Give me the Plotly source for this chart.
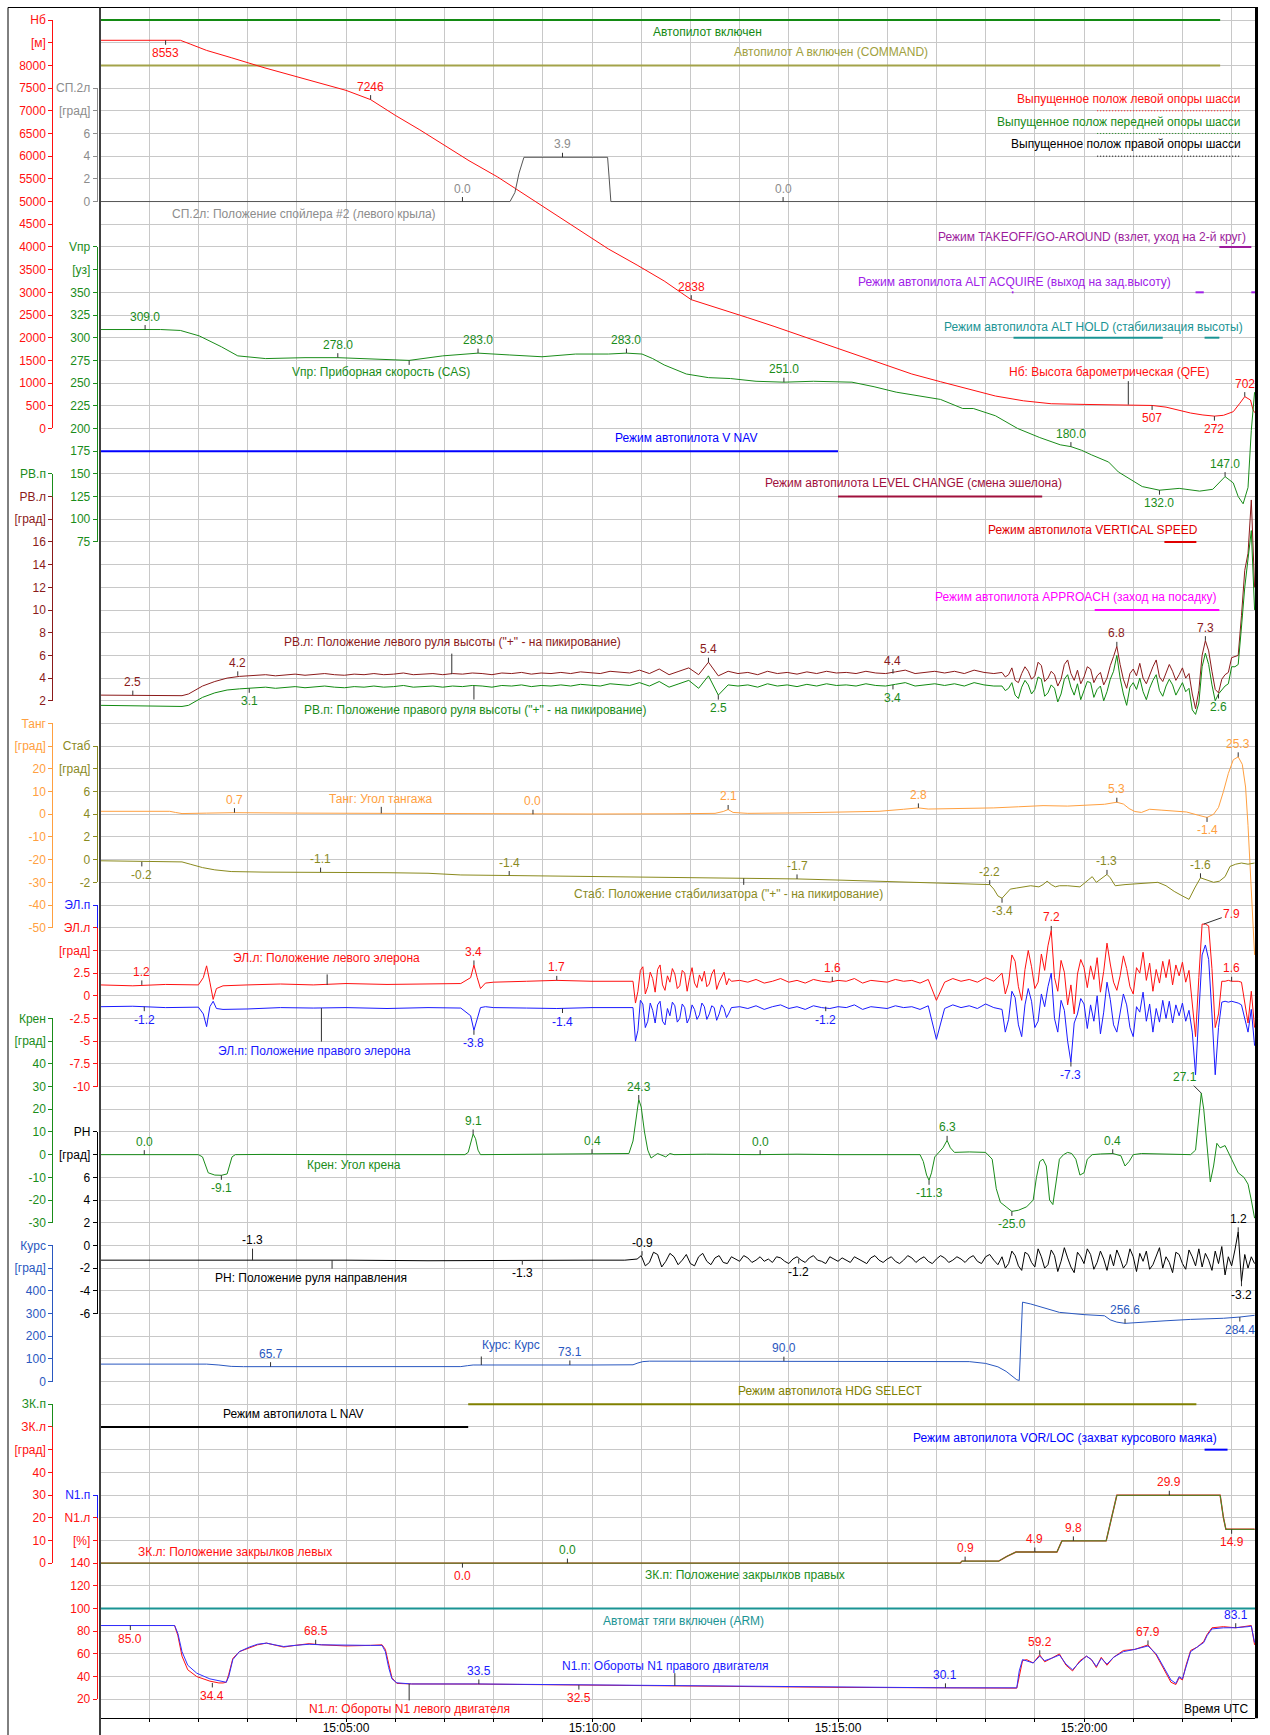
import plotly.graph_objects as go
import pandas as pd

# ============================ DATA ============================
# time: seconds after 15:00:00 UTC ; values in channel units
TIME_TICK_SEC = [300, 600, 900, 1200]
TIME_TICKS = ["15:05:00", "15:10:00", "15:15:00", "15:20:00"]

HB_TICKS = ["Нб", "[м]", "8000", "7500", "7000", "6500", "6000", "5500", "5000", "4500",
            "4000", "3500", "3000", "2500", "2000", "1500", "1000", "500", "0"]
SP_TICKS = ["СП.2л", "[град]", "6", "4", "2", "0"]
VPR_TICKS = ["Vпр", "[уз]", "350", "325", "300", "275", "250", "225", "200", "175", "150", "125", "100", "75"]
RVP_TICKS = ["РВ.п"]
RVL_TICKS = ["РВ.л", "[град]", "16", "14", "12", "10", "8", "6", "4", "2"]
TANG_TICKS = ["Танг", "[град]", "20", "10", "0", "-10", "-20", "-30", "-40", "-50"]
STAB_TICKS = ["Стаб", "[град]", "6", "4", "2", "0", "-2"]
ELP_TICKS = ["ЭЛ.п"]
ELL_TICKS = ["ЭЛ.л", "[град]", "2.5", "0", "-2.5", "-5", "-7.5", "-10"]
KREN_TICKS = ["Крен", "[град]", "40", "30", "20", "10", "0", "-10", "-20", "-30"]
RN_TICKS = ["РН", "[град]", "6", "4", "2", "0", "-2", "-4", "-6"]
KURS_TICKS = ["Курс", "[град]", "400", "300", "200", "100", "0"]
ZKP_TICKS = ["ЗК.п"]
ZKL_TICKS = ["ЗК.л", "[град]", "40", "30", "20", "10", "0"]
N1P_TICKS = ["N1.п"]
N1L_TICKS = ["N1.л", "[%]", "140", "120", "100", "80", "60", "40", "20"]

# discrete signals: (start s, end s)
ap_on = [(0, 1366)]
ap_cmd_a = [(0, 1366)]
gear_left = [(1216, 1390)]
gear_nose = [(1216, 1390)]
gear_right = [(1216, 1390)]
toga = [(1365, 1404)]
alt_acq = [(1112, 1114), (1336, 1346), (1404, 1408.5)]
alt_hold = [(1114, 1296), (1347, 1365)]
vnav = [(0, 900)]
lvl_chg = [(900, 1149)]
vs_mode = [(1298, 1337)]
app_mode = [(1213, 1365)]
hdg_sel = [(449, 1337)]
lnav = [(0, 449)]
vor_loc = [(1347, 1375)]
at_arm = [(0, 1408.5)]

hb = [(0, 8553), (98, 8553), (110, 8470), (130, 8330), (160, 8170), (200, 7950), (250, 7700),
      (300, 7450), (330, 7246), (338, 7150), (360, 6900), (390, 6580), (418, 6270), (450, 5900),
      (485, 5540), (526, 5055), (553, 4735), (586, 4340), (620, 3955), (655, 3600), (688, 3250),
      (721, 2838), (755, 2650), (790, 2440), (822, 2250), (856, 2040), (890, 1835), (924, 1620),
      (958, 1400), (990, 1200), (1025, 1030), (1060, 860), (1092, 715), (1126, 610), (1160, 545),
      (1200, 530), (1260, 525), (1283, 507), (1300, 470), (1313, 407), (1330, 340), (1345, 297),
      (1359, 272), (1370, 290), (1382, 370), (1390, 555), (1396, 702), (1403, 627), (1406, 420),
      (1408, 350)]
hb_marks = [(80, 8553), (330, 7246), (721, 2838), (1283, 507), (1359, 272), (1396, 702)]

sp2 = [(0, 0), (500, 0), (506, 0.8), (511, 2.5), (517, 3.9), (619, 3.9), (621, 2), (623, 0), (1408.5, 0)]
sp2_marks = [(442, 0.0), (564, 3.9), (833, 0.0)]

vpr = [(0, 309), (74, 309), (98, 308), (121, 302), (148, 290), (168, 280), (202, 277), (250, 278),
       (290, 278), (340, 276), (377, 275), (418, 280), (461, 283), (499, 281), (539, 279), (580, 282),
       (620, 282), (642, 283), (661, 282), (674, 277), (688, 270), (715, 260), (742, 256), (769, 255),
       (800, 252), (834, 251), (870, 252), (917, 251), (944, 246), (971, 240), (998, 236), (1025, 232),
       (1052, 222), (1065, 222), (1092, 214), (1119, 200), (1146, 190), (1171, 182), (1184, 180),
       (1197, 176), (1209, 171), (1230, 163), (1242, 152), (1254, 145), (1271, 136), (1292, 132),
       (1316, 134), (1341, 131), (1357, 133), (1372, 147), (1382, 140), (1388, 125), (1394, 117),
       (1400, 135), (1404, 198), (1408, 240)]
vpr_marks = [(55, 309.0), (290, 278.0), (461, 283.0), (642, 283.0), (834, 251.0), (1184, 180.0),
             (1292, 132.0), (1372, 147.0)]

# elevators
rvl_a = [(0, 2.5), (50, 2.5), (100, 2.45), (108, 2.6), (115, 2.9), (125, 3.3), (140, 3.7), (155, 4.0),
         (170, 4.15), (185, 4.2)]
rvl_b = [4.25, 4.3, 4.2, 4.3, 4.35, 4.25, 4.3, 4.4, 4.3, 4.25,
         4.35, 4.3, 4.4, 4.3, 4.35, 4.45, 4.3, 4.35, 4.4, 4.3,
         4.4, 4.35, 4.45, 4.4, 4.3, 4.45, 4.4, 4.5, 4.35, 4.45,
         4.4, 4.5, 4.4, 4.55, 4.45, 4.4, 4.6, 4.5, 4.45, 4.7,
         4.4, 4.8, 4.3, 4.6, 4.9, 4.3, 5.4, 4.2, 4.6, 4.4,
         4.5, 4.3, 4.6, 4.4, 4.5, 4.35, 4.55, 4.4, 4.6, 4.45,
         4.5, 4.4, 4.6, 4.45, 4.4, 4.55, 4.7, 4.4, 4.5, 4.6,
         4.45, 4.6, 4.4, 4.7, 4.5, 4.4]              # every 12 s from 190 s
rvl_c = [4.5, 4.1, 4.3, 4.9, 3.8, 3.6, 4.4, 5.0, 4.6, 3.9,
         4.2, 5.4, 5.1, 3.7, 4.0, 4.6, 4.3, 3.3, 3.9, 5.2,
         5.6, 4.4, 3.8, 4.7, 3.5, 4.1, 5.0, 4.8, 3.6, 4.2,
         4.5, 3.4, 4.0, 5.1, 5.9, 6.8, 5.2, 3.9, 3.1, 4.4,
         4.8, 4.2, 5.3, 4.0, 3.5, 4.3, 5.0, 5.6, 4.1, 3.7,
         4.5, 5.2, 4.6, 3.8, 4.3, 4.9, 4.0, 4.4, 2.6, 1.3,
         2.9, 6.0, 7.3, 6.4, 4.6, 3.0, 2.7, 3.9, 4.3, 4.5,
         5.8, 5.9, 6.0, 9.5, 13.5, 15.0, 19.7, 12.0]    # every 4 s from 1100 s
rvp_a = [(0, 1.6), (50, 1.55), (100, 1.5), (108, 1.6), (115, 1.9), (125, 2.3), (140, 2.7), (155, 2.95),
         (170, 3.05), (185, 3.1)]
rvp_b = [3.15, 3.2, 3.1, 3.2, 3.25, 3.15, 3.2, 3.3, 3.2, 3.15,
         3.25, 3.2, 3.3, 3.2, 3.25, 3.35, 3.2, 3.25, 3.3, 3.2,
         3.3, 3.25, 3.35, 3.3, 3.2, 3.35, 3.3, 3.4, 3.25, 3.35,
         3.3, 3.4, 3.3, 3.45, 3.35, 3.3, 3.5, 3.4, 3.35, 3.6,
         3.3, 3.7, 3.2, 3.5, 3.8, 3.1, 4.2, 2.5, 3.4, 3.3,
         3.4, 3.2, 3.5, 3.3, 3.4, 3.25, 3.45, 3.3, 3.5, 3.35,
         3.4, 3.3, 3.5, 3.35, 3.3, 3.45, 3.6, 3.3, 3.4, 3.5,
         3.35, 3.5, 3.3, 3.6, 3.4, 3.3]
rvp_c = [3.3, 2.9, 3.1, 3.6, 2.5, 2.2, 3.2, 3.8, 3.4, 2.6,
         3.0, 4.1, 3.9, 2.4, 2.7, 3.4, 3.1, 1.9, 2.6, 3.9,
         4.3, 3.2, 2.5, 3.5, 2.1, 2.9, 3.7, 3.6, 2.3, 3.0,
         3.3, 2.0, 2.8, 3.9, 4.6, 6.0, 4.0, 2.6, 1.6, 3.2,
         3.6, 3.0, 4.0, 2.8, 2.1, 3.1, 3.8, 4.3, 2.9, 2.4,
         3.3, 3.9, 3.4, 2.5, 3.1, 3.6, 2.8, 3.1, 1.2, 0.8,
         1.8, 5.0, 6.2, 5.2, 3.4, 2.0, 2.6, 3.0, 3.3, 3.5,
         5.0, 5.0, 5.2, 8.5, 12.0, 14.5, 17.0, 10.0]
rvl_marks = [(40, 2.5), (168, 4.2), (742, 5.4), (967, 4.4), (1240, 6.8), (1348, 7.3)]
rvp_marks = [(182, 3.1), (754, 2.5), (967, 3.4), (1364, 2.6)]

tang = [(0, 1.3), (85, 1.3), (92, 0.8), (100, 0.3), (130, 0.5), (164, 0.7), (250, 0.5), (330, 0.4),
        (420, 0.2), (528, 0.0), (600, 0.1), (700, 0.2), (750, 0.4), (760, 1.2), (766, 2.1), (772, 0.8),
        (790, 0.4), (850, 0.6), (900, 0.9), (950, 1.3), (980, 2.2), (998, 2.8), (1010, 2.3), (1050, 2.4),
        (1090, 2.8), (1120, 3.3), (1150, 3.8), (1180, 3.6), (1200, 4.0), (1225, 4.4), (1240, 5.3),
        (1248, 4.5), (1255, 2.5), (1262, 1.2), (1270, 0.8), (1280, 2.2), (1295, 1.8), (1310, 1.5),
        (1325, 1.0), (1340, -0.5), (1350, -1.4), (1358, 0.0), (1364, 3.0), (1370, 10), (1376, 18),
        (1382, 24), (1388, 25.3), (1393, 22), (1397, 12), (1400, -5), (1403, -25), (1406, -45),
        (1408, -62)]
tang_marks = [(164, 0.7), (528, 0.0), (766, 2.1), (998, 2.8), (1240, 5.3), (1350, -1.4), (1388, 25.3)]

stab = [(0, -0.1), (60, -0.15), (100, -0.2), (110, -0.4), (125, -0.7), (140, -0.9), (160, -1.05),
        (200, -1.1), (269, -1.1), (350, -1.15), (400, -1.2), (420, -1.3), (440, -1.35), (499, -1.4),
        (560, -1.45), (620, -1.5), (680, -1.55), (700, -1.6), (760, -1.65), (850, -1.7), (900, -1.8),
        (950, -1.9), (990, -2.0), (1030, -2.1), (1070, -2.2), (1085, -2.2), (1090, -2.6), (1095, -3.2),
        (1100, -3.4), (1105, -3.0), (1110, -2.6), (1118, -2.5), (1125, -2.4), (1135, -2.3), (1145, -2.4),
        (1150, -2.2), (1155, -1.9), (1160, -2.2), (1165, -2.4), (1170, -2.3), (1180, -2.3), (1195, -2.4),
        (1205, -1.8), (1210, -1.5), (1215, -2.0), (1222, -1.6), (1228, -1.3), (1232, -1.6), (1238, -2.3),
        (1250, -2.2), (1270, -2.1), (1290, -2.0), (1300, -2.3), (1310, -2.8), (1320, -3.2), (1328, -3.5),
        (1335, -2.5), (1342, -1.6), (1350, -1.8), (1358, -2.0), (1365, -1.9), (1372, -1.5), (1378, -0.6),
        (1385, -0.4), (1392, -0.3), (1400, -0.4), (1408, -0.3)]
stab_marks = [(51, -0.2), (269, -1.1), (499, -1.4), (850, -1.7), (1085, -2.2), (1100, -3.4),
              (1228, -1.3), (1342, -1.6)]

# ailerons
ell_a = [(0, 1.2), (40, 1.1), (80, 1.25), (120, 1.2), (126, 2.0), (130, 3.3), (134, 1.5), (138, -0.4),
         (142, 0.8), (150, 1.1), (180, 1.2), (220, 1.3), (260, 1.2), (300, 1.35), (350, 1.25), (400, 1.3),
         (440, 1.35), (452, 2.0), (456, 3.4), (460, 2.0), (464, 0.8), (470, 1.4), (480, 1.5), (520, 1.6),
         (557, 1.7), (600, 1.6), (640, 1.65), (648, 1.6)]
ell_b1 = [1.6, -0.8, 0.5, 2.8, 3.2, 0.2, 1.0, 2.6, 1.9, 0.4,
          2.9, 3.4, 1.2, 0.6, 2.2, 1.5, 3.0, 2.4, 0.8, 1.1,
          2.8, 2.5, 0.5, 2.0, 3.1, 1.4, 0.9, 2.3, 1.6, 2.7,
          1.0, 1.3, 2.4, 2.9, 0.7, 1.5, 2.1, 2.6, 1.2, 1.9,
          1.6]                                        # every 3 s from 650 s
ell_b2 = [1.7, 1.5, 1.8, 1.4, 1.6, 1.9, 1.5, 1.7, 1.4, 1.8, 1.6, 1.5, 1.7, 1.6, 1.9, 1.4, 1.7, 1.6,
          1.5, 1.8, 1.6, 1.7, 1.4, 1.8, -0.5, 1.5, 1.9, 1.6, 1.8, 1.5, 2.0, 1.6]   # every 10 s from 780 s
ell_b3 = [2.5, 0.2, 1.4, 4.5, 3.8, 1.0, -0.5, 2.9, 5.0, 3.2,
          0.8, 1.5, 4.6, 2.8, 5.5, 7.2, 2.0, 0.5, 3.9, 2.6,
          -1.0, 1.2, -2.0, 2.4, 4.0, 3.1, 0.9, 3.3, 1.8, 4.2,
          0.4, 2.7, 5.8, 3.5, 1.5, 0.6, 2.2, 4.4, 3.0, 1.0,
          0.2, 3.1, 2.5, 4.8, 1.7, 3.6, 0.5, 2.9, 1.4, 3.8,
          2.0, 4.0, 1.2, 3.4, 2.2, 3.7, 1.5, 2.8,
          -0.8, -4.5, 2.0, 7.9, 7.9, 7.7, 3.0, -3.5, -2.0, 1.6,
          1.6, 1.7, 1.6, 1.6, 1.6, 1.5, -1.0, -3.0, 0.5, -3.5]   # every 4 s from 1100 s
elp_a = [(0, -1.2), (40, -1.15), (80, -1.3), (120, -1.25), (126, -2.0), (130, -3.4), (134, -1.2),
         (138, -0.6), (142, -1.4), (150, -1.5), (180, -1.45), (220, -1.3), (260, -1.35), (300, -1.3),
         (350, -1.4), (400, -1.3), (440, -1.35), (452, -2.2), (456, -3.8), (460, -2.6), (464, -1.3),
         (470, -1.2), (480, -1.3), (520, -1.35), (557, -1.4), (600, -1.3), (640, -1.3), (648, -1.35)]
elp_b1 = [-1.3, -5.0, -3.8, -0.5, -0.9, -3.5, -2.8, -0.8, -1.6, -3.0,
          -1.0, -0.6, -2.8, -3.2, -1.4, -2.2, -0.7, -1.1, -2.9, -2.5,
          -0.9, -1.3, -3.0, -2.4, -1.0, -1.5, -2.6, -2.1, -0.8, -1.2,
          -2.6, -2.0, -1.1, -1.3, -2.7, -2.0, -1.0, -1.4, -2.4, -1.9,
          -1.3]
elp_b2 = [-1.2, -1.4, -1.1, -1.5, -1.2, -1.0, -1.4, -1.2, -1.5, -1.1, -1.3, -1.4, -1.2, -1.3, -1.0,
          -1.5, -1.2, -1.3, -1.4, -1.1, -1.3, -1.2, -1.5, -1.1, -4.8, -1.4, -1.0, -1.3, -1.1, -1.4,
          -0.9, -1.3]
elp_b3 = [-1.5, -4.0, -2.6, 0.5, -0.2, -3.2, -4.5, -1.0, 0.8, -0.6,
          -3.5, -2.8, 0.2, -1.2, 1.0, 2.5, -2.5, -4.0, -0.5, -1.6,
          -5.0, -7.3, -3.0, -2.0, -0.3, -0.9, -3.6, -1.0, -2.8, 0.0,
          -4.2, -1.8, 1.5, -0.4, -3.2, -4.0, -2.0, 0.2, -1.0, -3.5,
          -4.5, -1.2, -1.8, 0.4, -2.8, -0.9, -4.0, -1.4, -2.9, -0.5,
          -2.5, -0.6, -3.0, -1.0, -2.2, -0.8, -2.8, -1.6,
          -4.0, -8.7, -2.0, 4.5, 5.6, 4.0, -2.0, -8.7, -3.5, -0.7,
          -0.6, -0.7, -0.6, -0.7, -0.8, -1.0, -2.5, -4.0, -1.5, -5.5]
ell_marks = [(51, 1.2), (456, 3.4), (557, 1.7), (893, 1.6), (1160, 7.2), (1380, 1.6)]
ell_mark_peak = [(1346, 7.9)]
elp_marks = [(54, -1.2), (456, -3.8), (564, -1.4), (885, -1.2), (1184, -7.3)]

kren = [(0, 0), (120, 0), (125, -1), (128, -4), (132, -8), (140, -9), (148, -9.1), (155, -8.5),
        (158, -5), (161, -1), (165, 0), (200, 0.1), (300, 0), (400, 0), (445, 0), (449, 1), (452, 5),
        (455, 9.1), (458, 7), (461, 2), (464, 0), (500, 0.1), (560, 0.3), (600, 0.4), (640, 0.3),
        (645, 0.5), (650, 6), (654, 18), (657, 24.3), (660, 21), (664, 10), (668, 2), (672, -1.5),
        (676, -0.5), (680, 0.5), (690, -1), (695, 0.5), (700, 0), (740, 0.2), (800, 0), (850, 0.2),
        (900, 0), (950, 0.1), (1000, 0), (1004, -3), (1008, -9), (1011, -11.3), (1014, -8), (1018, -1),
        (1022, 0.5), (1028, 3), (1033, 6.3), (1037, 3), (1042, 1), (1060, 1.2), (1080, 1), (1088, -2),
        (1093, -15), (1098, -21), (1105, -23), (1112, -25), (1120, -24.5), (1130, -23), (1138, -20),
        (1142, -10), (1146, -3), (1150, -2), (1154, -5), (1158, -20), (1162, -22), (1166, -12),
        (1170, -2), (1175, 0), (1180, 1), (1185, 0.5), (1190, -2), (1195, -9), (1200, -8), (1204, -2),
        (1210, 0), (1220, 0.3), (1235, 0.5), (1245, -0.5), (1250, -5), (1255, -3), (1260, 0),
        (1270, 0.5), (1290, 0.4), (1310, 0.2), (1330, 0), (1336, 2), (1340, 15), (1343, 27.1),
        (1346, 20), (1350, 2), (1354, -12), (1358, -5), (1362, 5), (1366, 3), (1372, 4), (1380, -2),
        (1388, -8), (1395, -10), (1400, -13), (1404, -20), (1408, -28)]
kren_marks = [(54, 0.0), (148, -9.1), (455, 9.1), (600, 0.4), (657, 24.3), (805, 0.0), (1011, -11.3),
              (1033, 6.3), (1112, -25.0), (1235, 0.4)]
kren_mark_peak = [(1343, 27.1)]

# rudder
rn_a = [(0, -1.3), (100, -1.3), (180, -1.3), (186, -1.25), (192, -1.3), (300, -1.3), (400, -1.35),
        (500, -1.3), (520, -1.35), (560, -1.3), (600, -1.3), (640, -1.3), (655, -1.2)]
rn_b = [-0.9, -1.8, -1.5, -0.6, -0.8, -1.9, -1.4, -0.7, -1.0, -1.7,
        -1.3, -0.8, -1.6, -1.8, -1.0, -0.7, -1.4, -1.7, -1.1, -0.9,
        -1.5, -1.6, -1.0, -1.2, -1.4, -0.9, -1.1, -1.5, -1.3, -1.0,
        -1.4, -1.2, -1.5, -1.0, -1.1, -1.4, -1.6, -1.2, -1.0, -1.3,
        -1.5, -1.1, -0.9, -1.3, -1.4, -1.6, -1.0, -1.2, -1.4, -1.1,
        -1.3, -1.5, -1.0, -1.2, -1.4, -1.6, -1.1, -0.9, -1.3, -1.5,
        -1.2, -1.0, -1.4, -1.6, -1.3, -0.9, -1.1, -1.5, -1.2, -1.0,
        -1.4, -1.6, -1.2, -0.9, -1.1, -1.5, -1.3, -1.0, -1.2, -1.5,
        -1.1, -0.9, -1.4, -1.6, -1.0, -0.8, -1.3, -1.7]            # every 5 s from 660 s
rn_c = [-1.0, -2.0, -1.6, -0.5, -0.9, -1.8, -2.2, -0.6, -0.8, -1.5,
        -1.9, -0.3, -1.0, -2.0, -1.7, -0.4, -0.9, -2.3, -1.4, -0.2,
        -1.1, -1.9, -2.4, -0.6, -1.0, -1.6, -0.3, -0.8, -2.1, -1.5,
        -0.5, -1.2, -2.2, -0.8, -1.8, -0.4, -1.1, -2.0, -1.6, -0.3,
        -1.0, -2.3, -0.7, -1.4, -0.5, -2.1, -1.7, -0.9, -0.2, -2.0,
        -1.0, -1.5, -2.4, -0.6, -0.8, -1.6, -2.1, -0.4, -1.0, -1.8,
        -0.3, -1.9, -0.7, -1.3, -2.2, -0.5, -1.6, -0.1, -2.6, -1.0,
        -1.8, -0.4, 1.2, -3.2, -0.8, -2.0, -1.0, -1.6]              # every 4 s from 1100 s
rn_marks = [(186, -1.3), (515, -1.3), (661, -0.9), (852, -1.2), (1388, 1.2), (1392, -3.2)]

kurs = [(0, 77), (130, 77), (145, 73), (160, 67), (175, 65.7), (300, 65.7), (440, 66), (448, 70),
        (455, 73.1), (600, 73.1), (650, 74), (656, 82), (662, 88), (670, 90), (900, 90), (1050, 90),
        (1060, 88), (1080, 80), (1095, 65), (1105, 45), (1112, 25), (1118, 8), (1121, 5), (1123, 200),
        (1125, 350), (1135, 342), (1150, 325), (1170, 305), (1200, 295), (1225, 290), (1232, 272),
        (1240, 262), (1250, 256.6), (1270, 262), (1300, 268), (1330, 274), (1350, 276), (1370, 279),
        (1390, 284.4), (1400, 289), (1408, 292)]
kurs_marks = [(208, 65.7), (573, 73.1), (834, 90.0), (1250, 256.6), (1390, 284.4)]

flaps = [(0, 0), (1049, 0), (1051, 0.9), (1096, 0.9), (1106, 3), (1117, 4.9), (1167, 4.9), (1173, 9.8),
         (1227, 9.8), (1234, 20), (1240, 29.9), (1366, 29.9), (1370, 20), (1373, 14.9), (1408, 14.9)]
zkl_marks = [(442, 0.0), (1055, 0.9), (1140, 4.9), (1187, 9.8), (1304, 29.9), (1380, 14.9)]
zkp_marks = [(570, 0.0)]

n1_right = [(0, 85), (91, 85), (95, 78), (100, 62), (107, 50), (118, 43), (134, 38), (145, 36),
            (150, 35.2), (154, 35), (157, 40), (162, 55), (170, 62), (182, 66), (192, 68.5), (203, 69.5),
            (213, 68), (224, 66.5), (238, 67.5), (255, 68.5), (270, 68), (300, 67.5), (330, 67.5),
            (344, 67.5), (348, 62), (352, 48), (356, 38), (362, 34.5), (370, 33.8), (380, 33.5),
            (460, 33.5), (560, 32.8), (700, 32), (800, 31.2), (900, 30.6), (1000, 30.3), (1031, 30.1),
            (1118, 30.1), (1121, 45), (1125, 55), (1130, 54), (1138, 52), (1146, 58), (1152, 54),
            (1160, 56), (1170, 59), (1178, 51), (1186, 46), (1195, 53), (1203, 58), (1209, 55),
            (1215, 49), (1221, 56), (1228, 51), (1236, 57), (1248, 62), (1262, 64), (1278, 67),
            (1288, 60), (1298, 47), (1306, 37), (1312, 34), (1316, 40), (1320, 38), (1324, 48),
            (1330, 62), (1338, 66), (1346, 70), (1350, 76), (1356, 82), (1370, 83), (1385, 83.1),
            (1400, 84), (1404, 84.5), (1408, 70)]
n1_left = [(0, 85), (91, 85), (95, 76), (100, 58), (107, 46), (118, 40), (134, 36), (145, 34.4),
           (150, 34.4), (154, 35), (157, 42), (162, 56), (170, 62), (182, 65.5), (192, 68), (203, 69.5),
           (213, 68), (224, 66), (238, 67.5), (255, 69), (270, 68), (300, 67), (330, 67.5), (344, 68),
           (348, 64), (352, 50), (356, 39), (362, 34), (370, 33.5), (380, 33.5), (460, 33.4), (560, 32.6),
           (584, 32.5), (700, 31.8), (800, 31), (900, 30.5), (1000, 30.2), (1031, 30.1), (1118, 29.8),
           (1121, 40), (1125, 54), (1130, 55), (1138, 52), (1146, 59.2), (1152, 53), (1160, 56),
           (1170, 60), (1178, 50), (1186, 45), (1195, 54), (1203, 58), (1209, 55), (1215, 48),
           (1221, 57), (1228, 50), (1236, 57), (1248, 63), (1262, 64), (1278, 67.9), (1288, 59),
           (1298, 45), (1306, 35), (1312, 33), (1316, 39), (1320, 37), (1324, 49), (1330, 63),
           (1338, 66), (1346, 71), (1350, 77), (1356, 83), (1370, 84), (1385, 83), (1400, 85),
           (1404, 85), (1408, 68)]
n1l_marks = [(37, 85.0), (137, 34.4), (263, 68.5), (584, 32.5), (1146, 59.2), (1278, 67.9)]
n1r_marks = [(462, 33.5), (1031, 30.1), (1385, 83.1)]

# points on the curves that the channel captions point to: (time s, channel value)
hb_cap = (1254, 525)
vpr_cap = (377, 275)
rvl_cap = (429, 4.35)
rvp_cap = (456, 3.3)
tang_cap = (343, 0.4)
stab_cap = (785, -1.65)
ell_cap = (277, 1.2)
elp_cap = (270, -1.35)
rn_cap = (283, -1.3)
kurs_cap = (465, 73.1)
n1r_cap = (701, 32.0)
n1l_cap = (377, 33.5)

# ============================ LAYOUT / STYLE ============================
W, H = 1270, 1735
XL, XR = 100, 1255
YT, YB = 8, 1718.3
G0, GS = 20.0, 22.693          # first grid row pixel, row pitch
T_END = 1408.5
R_TOP = (YT - G0) / GS
R_BOT = (YB - G0) / GS
FONT = "Liberation Sans, Arial, sans-serif"
GRID = "#c8c8c8"
BASE = pd.Timestamp("2016-03-19 15:00:00")

RED = "#ff1010"
GREEN = "#1a8c1a"
DKRED = "#8b1a1a"
ORANGE = "#ffa040"
OLIVE = "#8a8a1e"
BLUE = "#1a1aff"
KBLUE = "#2a58c0"
GRAY = "#8c8c8c"
BLACK = "#000000"
TEAL = "#1a9494"

# channel scales: (value at reference row, reference row, value per row)
SC = {
    "hb": (0, 18, 500), "sp": (0, 8, 2), "vpr": (175, 19, 25), "rv": (2, 30, 2),
    "tang": (0, 35, 10), "stab": (0, 37, 2), "el": (0, 43, 2.5), "kren": (0, 50, 10),
    "rn": (0, 54, 2), "kurs": (0, 60, 100), "zk": (0, 68, 10), "n1": (20, 74, 20),
}


def ts(s):
    return (BASE + pd.Timedelta(seconds=float(s))).strftime("%Y-%m-%d %H:%M:%S.%f")


def py(r):
    return (H - (G0 + GS * r)) / H


def vrow(key, r):
    v0, r0, st = SC[key]
    return v0 + (r0 - r) * st


def sampled(start, step, vals):
    return [(start + step * i, v) for i, v in enumerate(vals)]


fig = go.Figure()
axes = {}
cnt = [1]


def new_axis(spec):
    cnt[0] += 1
    axes[f"yaxis{cnt[0]}"] = spec
    return f"y{cnt[0]}"


DAX = {}
for k in SC:
    DAX[k] = new_axis(dict(overlaying="y", visible=False, fixedrange=True,
                           range=[vrow(k, R_BOT), vrow(k, R_TOP)]))

POS_OUT, POS_IN = 52.3 / W, 96.7 / W


def disp(key, r_first, labels, pos, color, span_to=None):
    rows = [r_first + i for i in range(len(labels))]
    r_bot = span_to if span_to is not None else rows[-1]
    lo, hi = vrow(key, r_bot), vrow(key, r_first)
    eps = (hi - lo) * 1e-6
    name = new_axis(dict(domain=[py(r_bot), py(r_first)], range=[lo - eps, hi + eps], anchor="free",
                         position=pos, side="left", tickmode="array",
                         tickvals=[vrow(key, r) for r in rows], ticktext=labels,
                         showline=True, linecolor=color, linewidth=1, ticks="outside", ticklen=4,
                         tickwidth=1, tickcolor=color, tickfont=dict(family=FONT, size=12, color=color),
                         showgrid=False, zeroline=False, fixedrange=True, automargin=False))
    fig.add_trace(go.Scatter(x=[0.5], y=[lo], xaxis="x2", yaxis=name, mode="markers",
                             marker=dict(opacity=0, size=1), showlegend=False, hoverinfo="skip"))


disp("hb", 0, HB_TICKS, POS_OUT, RED)
disp("sp", 3, SP_TICKS, POS_IN, GRAY)
disp("vpr", 10, VPR_TICKS, POS_IN, GREEN)
disp("rv", 20, RVP_TICKS, POS_OUT, GREEN, span_to=21)
disp("rv", 21, RVL_TICKS, POS_OUT, DKRED)
disp("tang", 31, TANG_TICKS, POS_OUT, ORANGE)
disp("stab", 32, STAB_TICKS, POS_IN, OLIVE)
disp("el", 39, ELP_TICKS, POS_IN, BLUE, span_to=40)
disp("el", 40, ELL_TICKS, POS_IN, RED)
disp("kren", 44, KREN_TICKS, POS_OUT, GREEN)
disp("rn", 49, RN_TICKS, POS_IN, BLACK)
disp("kurs", 54, KURS_TICKS, POS_OUT, KBLUE)
disp("zk", 61, ZKP_TICKS, POS_OUT, GREEN, span_to=62)
disp("zk", 62, ZKL_TICKS, POS_OUT, RED)
disp("n1", 65, N1P_TICKS, POS_IN, BLUE, span_to=66)
disp("n1", 66, N1L_TICKS, POS_IN, RED)


def curve(pairs, key, color, width=1):
    fig.add_trace(go.Scatter(x=[ts(p[0]) for p in pairs], y=[p[1] for p in pairs], xaxis="x",
                             yaxis=DAX[key], mode="lines", line=dict(color=color, width=width),
                             showlegend=False, hoverinfo="skip"))


def mode(segs, row, color, width=2, dash=None):
    xs, ys = [], []
    for a, b in segs:
        xs += [ts(a), ts(b), None]
        ys += [row, row, None]
    fig.add_trace(go.Scatter(x=xs, y=ys, xaxis="x", yaxis="y", mode="lines",
                             line=dict(color=color, width=width, dash=dash),
                             showlegend=False, hoverinfo="skip"))


ann = []


def label(t, row, s, color, anchor="center"):
    ann.append(dict(x=ts(t), y=row, xref="x", yref="y", text=s, showarrow=False, xanchor=anchor,
                    yanchor="middle", font=dict(family=FONT, size=12, color=color)))


def marks(lst, key, color, sides, fmt="{:.1f}", dx=0, dy=13):
    for (t, v), s in zip(lst, sides):
        ann.append(dict(x=ts(t), y=v, xref="x", yref=DAX[key], text=fmt.format(v), showarrow=True,
                        arrowhead=0, arrowwidth=1, arrowcolor="#303030", ax=dx,
                        ay=-dy if s == "a" else dy, standoff=0,
                        font=dict(family=FONT, size=12, color=color)))


def pointer(pt, key, length):
    t, v = pt
    ann.append(dict(x=ts(t), y=v, xref="x", yref=DAX[key], text="", showarrow=True,
                    arrowhead=0, arrowwidth=1, arrowcolor="#303030", ax=0, ay=length, standoff=0))


# discrete signals
mode(ap_on, 0, "#138a13")
mode(ap_cmd_a, 2, "#a3a34a")
mode(gear_left, 4, RED, 1, "1px,2px")
mode(gear_nose, 5, GREEN, 1, "1px,2px")
mode(gear_right, 6, BLACK, 1, "1px,2px")
mode(toga, 10, "#9c1c9c")
mode(alt_acq, 12, "#a020e8")
mode(alt_hold, 14, TEAL)
mode(vnav, 19, "#0000ff")
mode(lvl_chg, 21, "#a0103c")
mode(vs_mode, 23, "#e00000")
mode(app_mode, 26, "#ff00ff")
mode(hdg_sel, 61, "#808000")
mode(lnav, 62, BLACK)
mode(vor_loc, 63, "#0000ff")
mode(at_arm, 70, TEAL)

# analog channels
curve(sp2, "sp", "#555555")
curve(hb, "hb", RED)
curve(vpr, "vpr", GREEN)
curve(rvl_a + sampled(190, 12, rvl_b) + sampled(1100, 4, rvl_c), "rv", DKRED)
curve(rvp_a + sampled(190, 12, rvp_b) + sampled(1100, 4, rvp_c), "rv", "#108a10")
curve(tang, "tang", ORANGE)
curve(stab, "stab", OLIVE)
curve(ell_a + sampled(650, 3, ell_b1) + sampled(780, 10, ell_b2) + sampled(1100, 4, ell_b3), "el", RED)
curve(elp_a + sampled(650, 3, elp_b1) + sampled(780, 10, elp_b2) + sampled(1100, 4, elp_b3), "el", BLUE)
curve(kren, "kren", GREEN)
curve(rn_a + sampled(660, 5, rn_b) + sampled(1100, 4, rn_c), "rn", BLACK)
curve(kurs, "kurs", KBLUE)
curve(flaps, "zk", RED, 1.4)
curve(flaps, "zk", "#2f9a2f", 1)
curve(n1_left, "n1", RED)
curve(n1_right, "n1", "#3030ff")

# value marks
marks(hb_marks, "hb", RED, "baabba", fmt="{:.0f}")
marks(sp2_marks, "sp", GRAY, "aaa")
marks(vpr_marks, "vpr", GREEN, "aaaaaaba")
marks(rvl_marks, "rv", DKRED, "aaaaaa")
marks(rvp_marks, "rv", GREEN, "bbbb")
marks(tang_marks, "tang", ORANGE, "aaaaaba")
marks(stab_marks, "stab", OLIVE, "baaaabaa")
marks(ell_marks, "el", RED, "aaaaaa")
marks(ell_mark_peak, "el", RED, "a", dx=28, dy=10)
marks(elp_marks, "el", BLUE, "bbbbb")
marks(kren_marks, "kren", GREEN, "abaaaababa")
marks(kren_mark_peak, "kren", GREEN, "a", dx=-16, dy=16)
marks(rn_marks[:1], "rn", BLACK, "a", dy=20)
marks(rn_marks[1:], "rn", BLACK, "babab")
marks(kurs_marks, "kurs", KBLUE, "aaaab")
marks(zkl_marks, "zk", RED, "baaaab")
marks(zkp_marks, "zk", GREEN, "a")
marks(n1l_marks, "n1", RED, "bbabaa")
marks(n1r_marks, "n1", BLUE, "aaa")

# caption pointers
pointer(hb_cap, "hb", -25)
pointer(vpr_cap, "vpr", 6)
pointer(rvl_cap, "rv", -22)
pointer(rvp_cap, "rv", 15)
pointer(tang_cap, "tang", -8)
pointer(stab_cap, "stab", 8)
pointer(ell_cap, "el", -12)
pointer(elp_cap, "el", 35)
pointer(rn_cap, "rn", 10)
pointer(kurs_cap, "kurs", -10)
pointer(n1r_cap, "n1", -14)
pointer(n1l_cap, "n1", 18)

# channel / mode names
label(741, 0.55, "Автопилот включен", "#138a13")
label(891, 1.41, "Автопилот A включен (COMMAND)", "#a0a040")
label(1394, 3.46, "Выпущенное полож левой опоры шасси", RED, "right")
label(1394, 4.48, "Выпущенное полож передней опоры шасси", GREEN, "right")
label(1394, 5.46, "Выпущенное полож правой опоры шасси", BLACK, "right")
label(249, 8.53, "СП.2л: Положение спойлера #2 (левого крыла)", GRAY)
label(1400, 9.55, "Режим TAKEOFF/GO-AROUND (взлет, уход на 2-й круг)", "#9c1c9c", "right")
label(1308, 11.55, "Режим автопилота ALT ACQUIRE (выход на зад.высоту)", "#a020e8", "right")
label(1396, 13.55, "Режим автопилота ALT HOLD (стабилизация высоты)", TEAL, "right")
label(1230, 15.5, "Нб: Высота барометрическая (QFE)", RED)
label(343, 15.5, "Vпр: Приборная скорость (CAS)", GREEN)
label(714, 18.42, "Режим автопилота V NAV", "#0000ff")
label(992, 20.42, "Режим автопилота LEVEL CHANGE (смена эшелона)", "#a0103c")
label(1211, 22.47, "Режим автопилота VERTICAL SPEED", "#e00000")
label(1190, 25.44, "Режим автопилота APPROACH (заход на посадку)", "#ff00ff")
label(430, 27.39, "РВ.л: Положение левого руля высоты (\"+\" - на пикирование)", DKRED)
label(458, 30.42, "РВ.п: Положение правого руля высоты (\"+\" - на пикирование)", GREEN)
label(343, 34.32, "Танг: Угол тангажа", ORANGE)
label(766, 38.51, "Стаб: Положение стабилизатора (\"+\" - на пикирование)", OLIVE)
label(276, 41.34, "ЭЛ.л: Положение левого элерона", RED)
label(262, 45.43, "ЭЛ.п: Положение правого элерона", BLUE)
label(310, 50.45, "Крен: Угол крена", GREEN)
label(257, 55.43, "РН: Положение руля направления", BLACK)
label(501, 58.4, "Курс: Курс", KBLUE)
label(891, 60.4, "Режим автопилота HDG SELECT", "#808000")
label(236, 61.42, "Режим автопилота L NAV", BLACK)
label(1177, 62.5, "Режим автопилота VOR/LOC (захват курсового маяка)", "#0000ff")
label(165, 67.52, "ЗК.л: Положение закрылков левых", RED)
label(787, 68.54, "ЗК.п: Положение закрылков правых", GREEN)
label(712, 70.54, "Автомат тяги включен (ARM)", TEAL)
label(690, 72.53, "N1.п: Обороты N1 правого двигателя", BLUE)
label(377, 74.44, "N1.л: Обороты N1 левого двигателя", RED)
label(1403, 74.44, "Время UTC", BLACK, "right")


def px_x(p):
    return p / W


def px_y(p):
    return (H - p) / H


shapes = [
    dict(type="line", xref="paper", yref="paper", x0=px_x(8), x1=px_x(8), y0=px_y(7.5), y1=0,
         line=dict(color=BLACK, width=1)),
    dict(type="line", xref="paper", yref="paper", x0=px_x(8), x1=px_x(1258), y0=px_y(7.5), y1=px_y(7.5),
         line=dict(color=BLACK, width=1)),
    dict(type="line", xref="paper", yref="paper", x0=px_x(100), x1=px_x(100), y0=px_y(7.5), y1=0,
         line=dict(color="#404040", width=2)),
    dict(type="line", xref="paper", yref="paper", x0=px_x(1256.5), x1=px_x(1256.5), y0=px_y(7.5),
         y1=px_y(YB), line=dict(color=BLACK, width=3)),
]

fig.update_layout(
    width=W, height=H, margin=dict(l=0, r=0, t=0, b=0), autosize=False,
    paper_bgcolor="white", plot_bgcolor="rgba(0,0,0,0)", showlegend=False,
    font=dict(family=FONT, size=12, color=BLACK),
    xaxis=dict(type="date", domain=[XL / W, XR / W], range=[ts(0), ts(T_END)], anchor="y",
               tickmode="array", tickvals=[ts(s) for s in TIME_TICK_SEC], ticktext=TIME_TICKS,
               ticks="outside", ticklen=3, tickcolor=BLACK, tickwidth=1, ticklabelstandoff=-5,
               showline=True, linecolor=BLACK, linewidth=1,
               showgrid=True, gridcolor=GRID, gridwidth=1, zeroline=False,
               tickfont=dict(family=FONT, size=12, color=BLACK), fixedrange=True, automargin=False,
               minor=dict(tickmode="linear", tick0=ts(0), dtick=60000, ticks="outside", ticklen=3,
                          tickcolor=BLACK, showgrid=True, gridcolor=GRID, gridwidth=1)),
    xaxis2=dict(domain=[XL / W, XR / W], range=[0, 1], visible=False, anchor="y", fixedrange=True),
    yaxis=dict(domain=[py(R_BOT), py(R_TOP)], range=[R_BOT, R_TOP], tickmode="array",
               tickvals=list(range(0, 75)), showticklabels=False, ticks="", showgrid=True,
               gridcolor=GRID, gridwidth=1, zeroline=False, showline=False, fixedrange=True,
               automargin=False),
    annotations=ann, shapes=shapes,
    **axes,
)

fig.write_html("out.html", config={"displayModeBar": False})
